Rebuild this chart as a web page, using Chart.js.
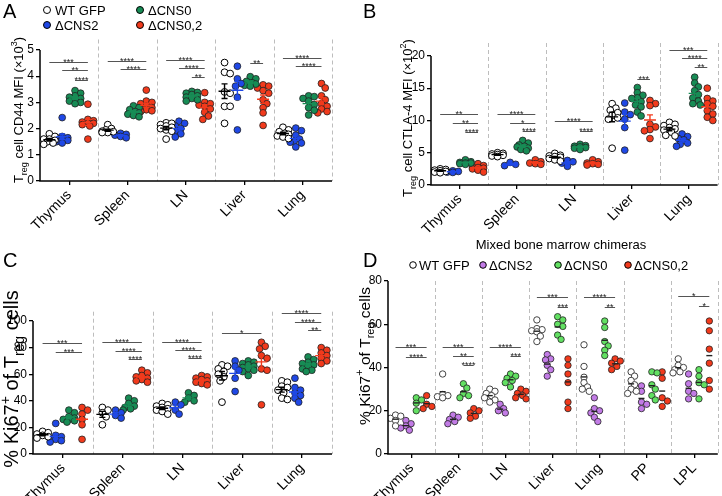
<!DOCTYPE html>
<html>
<head>
<meta charset="utf-8">
<script src="https://cdn.jsdelivr.net/npm/chart.js@4/dist/chart.umd.min.js"></script>
<style>
  body { margin: 0; background: #fff; }
  #wrap { position: relative; width: 722px; height: 496px; overflow: hidden; }
  #wrap canvas { position: absolute; left: 0; top: 0; }
</style>
</head>
<body>
<div id="wrap">
  <canvas id="pa" width="722" height="560"></canvas>
  <canvas id="pb" width="722" height="560"></canvas>
  <canvas id="pc" width="722" height="560"></canvas>
  <canvas id="pd" width="722" height="560"></canvas>
</div>
<script>
// categories and groups
const organs = ['Thymus', 'Spleen', 'LN', 'Liver', 'Lung'];
const organsD = ['Thymus', 'Spleen', 'LN', 'Liver', 'Lung', 'PP', 'LPL'];
const groups = ['WT GFP', 'ΔCNS2', 'ΔCNS0', 'ΔCNS0,2'];

// A: Treg CD44 MFI (x10^3), one list per organ
const cd44WT = [
  [1.8, 1.7, 1.6, 1.6, 1.55, 1.5, 1.45, 1.4],
  [2.15, 2.0, 1.95, 1.9, 1.88, 1.85, 1.85],
  [2.22, 2.2, 2.15, 2.1, 2.05, 2.0, 1.95, 1.9, 1.6],
  [4.52, 4.15, 4.1, 3.4, 3.35, 2.85, 2.85, 2.2],
  [2.05, 1.95, 1.88, 1.82, 1.78, 1.72, 1.68, 1.62]
];
const cd44CNS2 = [
  [2.42, 1.7, 1.65, 1.65, 1.6, 1.55, 1.5, 1.45],
  [1.82, 1.78, 1.75, 1.7, 1.65],
  [2.28, 2.2, 2.1, 2.0, 1.9, 1.8, 1.68],
  [4.38, 3.9, 3.72, 3.62, 3.2, 1.95],
  [2.02, 1.92, 1.75, 1.6, 1.5, 1.48, 1.45, 1.3]
];
const cd44CNS0 = [
  [3.45, 3.35, 3.25, 3.2, 3.15, 3.1, 3.05, 3.0, 2.95],
  [2.87, 2.8, 2.72, 2.65, 2.6, 2.55, 2.5, 2.45],
  [3.42, 3.38, 3.35, 3.3, 3.25, 3.2, 3.15, 3.1, 3.05],
  [3.98, 3.9, 3.8, 3.75, 3.7, 3.65, 3.62],
  [3.25, 3.22, 3.15, 3.05, 2.92, 2.8, 2.7, 2.52]
];
const cd44CNS02 = [
  [2.93, 2.35, 2.3, 2.25, 2.2, 2.2, 2.15, 2.1, 1.6],
  [3.47, 3.05, 3.0, 2.95, 2.85, 2.8, 2.75, 2.72, 2.68, 2.65],
  [3.37, 3.0, 2.95, 2.9, 2.85, 2.75, 2.62, 2.48, 2.35],
  [3.67, 3.62, 3.55, 3.45, 3.35, 3.1, 2.95, 2.8, 2.6, 2.12],
  [3.72, 3.55, 3.25, 3.1, 2.95, 2.85, 2.75, 2.65, 2.6]
];
// [organ, group from, group to, height, stars]
const cd44Sig = [
  [0, 0, 3, 4.55, '***'], [0, 1, 3, 4.22, '**'], [0, 2, 3, 3.87, '****'],
  [1, 0, 3, 4.59, '****'], [1, 1, 3, 4.26, '****'],
  [2, 0, 3, 4.62, '****'], [2, 1, 3, 4.32, '****'], [2, 2, 3, 3.98, '**'],
  [3, 2, 3, 4.5, '**'],
  [4, 0, 3, 4.7, '****'], [4, 1, 3, 4.39, '****']
];

// B: Treg CTLA-4 MFI (x10^2)
const ctlaWT = [
  [2.5, 2.4, 2.3, 2.2, 2.1, 2.0, 1.9],
  [5.0, 4.9, 4.8, 4.7, 4.6, 4.5, 4.4],
  [4.9, 4.6, 4.5, 4.4, 4.3, 4.1, 3.9, 3.7],
  [12.6, 11.9, 11.6, 11.2, 10.8, 10.4, 10.2, 5.7],
  [9.7, 9.4, 9.2, 8.9, 8.7, 8.5, 8.2, 7.7, 7.6]
];
const ctlaCNS2 = [
  [2.2, 2.1, 2.0, 1.95],
  [3.5, 3.2, 3.0],
  [3.8, 3.6, 3.4, 2.9],
  [12.7, 11.3, 10.9, 10.2, 8.9, 5.4],
  [7.9, 7.5, 7.2, 7.0, 6.5, 6.3, 6.0]
];
const ctlaCNS0 = [
  [3.9, 3.6, 3.5, 3.4, 3.4, 3.3, 3.2],
  [6.9, 6.5, 6.2, 6.0, 5.9, 5.7, 5.5, 5.3],
  [6.3, 6.1, 6.0, 5.9, 5.8, 5.7, 5.5],
  [15.1, 14.3, 13.9, 13.5, 13.4, 12.9, 12.4, 12.1, 11.3, 10.7],
  [16.7, 15.8, 15.2, 14.6, 14.0, 13.5, 13.0, 12.6, 12.4]
];
const ctlaCNS02 = [
  [3.3, 3.0, 2.8, 2.7, 2.6, 2.5, 2.3, 2.0],
  [3.9, 3.6, 3.4, 3.3, 3.2],
  [3.9, 3.6, 3.4, 3.3, 3.2, 3.1],
  [13.1, 12.6, 12.3, 9.4, 9.0, 8.6, 8.4, 7.2],
  [15.0, 13.4, 13.0, 12.6, 12.2, 11.5, 11.0, 10.5, 10.0]
];
const ctlaSig = [
  [0, 0, 3, 11.0, '**'], [0, 1, 3, 9.6, '**'], [0, 2, 3, 8.25, '****'],
  [1, 0, 3, 11.0, '****'], [1, 1, 3, 9.64, '*'], [1, 2, 3, 8.3, '****'],
  [2, 0, 3, 9.9, '****'], [2, 2, 3, 8.4, '****'],
  [3, 2, 3, 16.4, '***'],
  [4, 0, 3, 20.9, '***'], [4, 1, 3, 19.7, '****'], [4, 2, 3, 18.3, '**']
];

// C: % Ki67+ of Treg cells
const ki67WT = [
  [17, 16, 15, 14, 13, 12],
  [35, 33, 31, 28, 22],
  [38, 37, 36, 35, 34, 33, 32, 30],
  [67, 66, 64, 62, 60, 58, 55, 39],
  [55, 54, 51, 50, 48, 46, 42, 41]
];
const ki67CNS2 = [
  [23, 14, 13, 12, 11, 10, 9],
  [33, 31, 29, 27],
  [39, 37, 33, 30],
  [70, 66, 63, 57, 47],
  [57, 50, 48, 46, 44, 42, 39]
];
const ki67CNS0 = [
  [33, 31, 28, 27, 26, 26, 25, 24],
  [42, 40, 38, 36, 35, 34, 33],
  [46, 44, 42, 40, 39],
  [70, 69, 68, 67, 66, 65, 64, 63, 62, 59],
  [73, 71, 69, 68, 67, 66, 64, 63, 62]
];
const ki67CNS02 = [
  [35, 33, 30, 26, 22, 11],
  [63, 61, 59, 58, 57, 56, 55, 54],
  [59, 58, 57, 56, 55, 54, 53, 52],
  [84, 81, 79, 74, 72, 64, 63, 37],
  [80, 78, 76, 74, 72, 70, 68]
];
const ki67Sig = [
  [0, 0, 3, 83.2, '***'], [0, 1, 3, 76.4, '***'],
  [1, 0, 3, 84, '****'], [1, 1, 3, 77.4, '****'], [1, 2, 3, 71.2, '****'],
  [2, 0, 3, 84.5, '****'], [2, 1, 3, 78.2, '****'], [2, 2, 3, 72, '****'],
  [3, 0, 3, 91.2, '*'],
  [4, 0, 3, 105.8, '****'], [4, 1, 3, 99.5, '****'], [4, 2, 3, 93.2, '**']
];

// D: mixed bone marrow chimeras, % Ki67+ of Treg cells
const mixWT = [
  [18, 17.5, 16.5, 15.5, 13],
  [37, 27.5, 27, 26.5, 26],
  [30, 29, 28, 27, 26, 25, 24],
  [62, 58, 57.5, 57, 56.5, 54.5, 52],
  [50.5, 40.5, 35.5, 33, 31, 30, 29],
  [38, 36, 34, 32, 30, 29, 28],
  [44, 41, 40, 39, 38, 37.5]
];
const mixCNS2 = [
  [15.5, 14, 13, 12, 11],
  [18, 17, 16, 15, 14],
  [23, 21, 20, 19],
  [46, 44, 43.5, 41, 39, 36],
  [26, 21, 20, 19, 17, 15],
  [31.5, 29, 24, 23, 21],
  [37, 32.5, 29, 28, 25.5]
];
const mixCNS0 = [
  [26, 25, 23.5, 20],
  [32.5, 30.5, 28, 27, 26],
  [37, 36, 35, 34, 33, 31],
  [63.5, 62, 60, 59, 55, 53],
  [61.5, 58.5, 52, 50, 48, 45.5],
  [38, 37.5, 32, 30, 27, 25],
  [39, 36, 33, 32, 25.5]
];
const mixCNS02 = [
  [27, 23, 22, 21],
  [21, 20, 19, 17.5, 16.5],
  [30, 29, 28, 27, 26, 25.5],
  [44, 41, 37, 33, 24, 21],
  [44, 43, 42, 40.5, 39],
  [38, 35, 26, 24.5, 22],
  [61.5, 57, 48.5, 42, 34, 30]
];
const mixSig = [
  [0, 0, 3, 49.4, '***'], [0, 1, 3, 44.8, '****'],
  [1, 0, 3, 49.7, '***'], [1, 1, 3, 45.4, '**'], [1, 2, 3, 41.2, '****'],
  [2, 0, 3, 49.4, '****'], [2, 2, 3, 45.1, '***'],
  [3, 0, 3, 72.5, '***'], [3, 2, 3, 67.9, '***'],
  [4, 0, 3, 72.5, '****'], [4, 2, 3, 67.9, '**'],
  [6, 0, 3, 73.1, '*'], [6, 2, 3, 68.5, '*']
];

const FONT = '"Liberation Sans", Arial, Helvetica, sans-serif';
const FRAC = [0.16, 0.38, 0.6, 0.82];
const colorsABC = ['#ffffff', '#1f48e6', '#178c55', '#f23a1c'];
const colorsD = ['#ffffff', '#c27be6', '#62e062', '#f23a1c'];
const H = 560; // canvas height, taller than the window so rotated labels are not clipped

// spread points of one column sideways so they do not sit on top of each other
function swarm(vals, ppu, r) {
  const placed = [];
  return vals.map(v => {
    const y = v * ppu;
    let best = 0, bestCost = Infinity;
    for (let k = 0; k < 7; k++) {
      const o = (k % 2 ? 1 : -1) * Math.ceil(k / 2) * r * 0.55;
      let cost = 0;
      placed.forEach(p => {
        const d = Math.hypot(p[0] - o, p[1] - y);
        if (d < r * 1.5) cost += r * 1.5 - d;
      });
      if (cost === 0) { best = o; break; }
      if (cost < bestCost) { bestCost = cost; best = o; }
    }
    placed.push([best, y]);
    return best;
  });
}

function richText(ctx, parts, x, y, size, rotate) {
  const small = Math.round(size * 0.7);
  let w = 0;
  parts.forEach(p => {
    ctx.font = (p[1] ? small : size) + 'px ' + FONT;
    w += ctx.measureText(p[0]).width;
  });
  ctx.save();
  ctx.translate(x, y);
  if (rotate) ctx.rotate(-Math.PI / 2);
  ctx.fillStyle = '#000';
  ctx.textBaseline = 'alphabetic';
  ctx.textAlign = 'left';
  let cx = -w / 2;
  const base = size * 0.36;
  parts.forEach(p => {
    ctx.font = (p[1] ? small : size) + 'px ' + FONT;
    const dy = p[1] === 1 ? size * 0.3 : (p[1] === 2 ? -size * 0.42 : 0);
    ctx.fillText(p[0], cx, base + dy);
    cx += ctx.measureText(p[0]).width;
  });
  ctx.restore();
}

function dot(ctx, x, y, r, fill) {
  ctx.beginPath();
  ctx.arc(x, y, r, 0, Math.PI * 2);
  ctx.fillStyle = fill;
  ctx.fill();
  ctx.lineWidth = 1;
  ctx.strokeStyle = '#000';
  ctx.stroke();
}

function makePanel(p) {
  const n = p.cats.length;
  const a = p.area;
  const ppu = (a.b - a.t) / p.yMax;
  const pxCat = (a.r - a.l) / n;
  const YW = 30, XH = 75;

  const datasets = p.series.map((ser, g) => {
    const pts = [];
    ser.forEach((vals, i) => {
      const offs = swarm(vals, ppu, p.r);
      vals.forEach((v, k) => pts.push({ x: i + FRAC[g] + offs[k] / pxCat, y: v }));
    });
    return {
      label: groups[g],
      data: pts,
      backgroundColor: p.colors[g],
      borderColor: g === 0 ? p.wtEdge : '#222',
      borderWidth: g === 0 ? 1 : 0.8,
      pointRadius: p.r,
      pointHoverRadius: p.r
    };
  });

  const decor = {
    id: 'decor',
    beforeDatasetsDraw(chart) {
      const ctx = chart.ctx, xs = chart.scales.x, ca = chart.chartArea;
      ctx.save();
      ctx.setLineDash([4, 3]);
      ctx.strokeStyle = '#bdbdbd';
      ctx.lineWidth = 1;
      for (let i = 1; i <= n; i++) {
        const x = Math.round(xs.getPixelForValue(i)) + 0.5;
        ctx.beginPath(); ctx.moveTo(x, ca.top); ctx.lineTo(x, ca.bottom); ctx.stroke();
      }
      ctx.restore();
    },
    afterDatasetsDraw(chart) {
      const ctx = chart.ctx, xs = chart.scales.x, ys = chart.scales.y, ca = chart.chartArea;
      ctx.save();
      // mean (+ SEM) marks
      p.series.forEach((ser, g) => {
        ser.forEach((vals, i) => {
          const m = vals.reduce((s, v) => s + v, 0) / vals.length;
          const sd = Math.sqrt(vals.reduce((s, v) => s + (v - m) * (v - m), 0) / (vals.length - 1));
          const sem = sd / Math.sqrt(vals.length);
          const x = xs.getPixelForValue(i + FRAC[g]);
          const y = ys.getPixelForValue(m);
          ctx.lineWidth = 1.4;
          if (p.sem) {
            ctx.strokeStyle = g === 0 ? '#000' : p.colors[g];
            const y1 = ys.getPixelForValue(m + sem), y2 = ys.getPixelForValue(m - sem);
            ctx.beginPath();
            ctx.moveTo(x - 6, y); ctx.lineTo(x + 6, y);
            ctx.moveTo(x, y1); ctx.lineTo(x, y2);
            ctx.moveTo(x - 3, y1); ctx.lineTo(x + 3, y1);
            ctx.moveTo(x - 3, y2); ctx.lineTo(x + 3, y2);
            ctx.stroke();
          } else {
            ctx.strokeStyle = '#222';
            ctx.beginPath(); ctx.moveTo(x - 3, y); ctx.lineTo(x + 3, y); ctx.stroke();
          }
        });
      });
      // significance bars
      ctx.strokeStyle = '#555';
      ctx.fillStyle = '#222';
      ctx.lineWidth = 1;
      ctx.font = '9px ' + FONT;
      ctx.textAlign = 'center';
      ctx.textBaseline = 'alphabetic';
      p.sig.forEach(s => {
        const x1 = xs.getPixelForValue(s[0] + FRAC[s[1]]);
        const x2 = xs.getPixelForValue(s[0] + FRAC[s[2]]);
        const y = Math.round(ys.getPixelForValue(s[3])) + 0.5;
        ctx.beginPath(); ctx.moveTo(x1, y); ctx.lineTo(x2, y); ctx.stroke();
        ctx.fillText(s[4], (x1 + x2) / 2, y + 2.5);
      });
      // axis lines
      ctx.strokeStyle = '#000';
      ctx.lineWidth = 1.5;
      const yTop = ys.getPixelForValue(p.yTicks[p.yTicks.length - 1]);
      ctx.beginPath();
      ctx.moveTo(ca.left, yTop); ctx.lineTo(ca.left, ca.bottom);
      ctx.lineTo(ca.right, ca.bottom);
      ctx.stroke();
      ctx.restore();
    },
    afterDraw(chart) {
      const ctx = chart.ctx;
      ctx.save();
      ctx.fillStyle = '#000';
      ctx.font = '20px ' + FONT;
      ctx.textBaseline = 'top';
      ctx.textAlign = 'left';
      ctx.fillText(p.letter[0], p.letter[1], p.letter[2]);
      richText(ctx, p.title.parts, p.title.x, p.title.y, p.title.size, true);
      if (p.extra) p.extra(ctx);
      ctx.restore();
    }
  };

  new Chart(document.getElementById(p.id), {
    type: 'scatter',
    data: { datasets: datasets },
    options: {
      responsive: false,
      animation: false,
      events: [],
      layout: { padding: { left: a.l - YW, right: 722 - a.r, top: a.t, bottom: H - a.b - XH } },
      plugins: { legend: { display: false }, tooltip: { enabled: false } },
      scales: {
        x: {
          type: 'linear', min: 0, max: n,
          afterBuildTicks: s => { s.ticks = p.cats.map((c, i) => ({ value: i + 0.5 })); },
          afterFit: s => { s.height = XH; s.paddingLeft = 0; s.paddingRight = 0; },
          ticks: {
            autoSkip: false, minRotation: 45, maxRotation: 45, padding: 2,
            color: '#000', font: { family: FONT, size: 14 },
            callback: (v, i) => p.cats[i]
          },
          grid: { drawOnChartArea: false, drawTicks: true, tickLength: 4, color: '#000', lineWidth: 1.3 },
          border: { display: false }
        },
        y: {
          min: 0, max: p.yMax,
          afterBuildTicks: s => { s.ticks = p.yTicks.map(v => ({ value: v })); },
          afterFit: s => { s.width = YW; s.paddingTop = 0; s.paddingBottom = 0; },
          ticks: { color: '#000', font: { family: FONT, size: 12 }, padding: 2 },
          grid: { drawOnChartArea: false, drawTicks: true, tickLength: 4, color: '#000', lineWidth: 1.3 },
          border: { display: false }
        }
      }
    },
    plugins: [decor]
  });
}

makePanel({
  id: 'pa', cats: organs, series: [cd44WT, cd44CNS2, cd44CNS0, cd44CNS02], sig: cd44Sig,
  colors: colorsABC, wtEdge: '#000', r: 3.4, sem: true,
  area: { l: 40, r: 332, t: 39.5, b: 181 }, yMax: 5.4, yTicks: [0, 1, 2, 3, 4, 5],
  letter: ['A', 3, 2],
  title: { parts: [['T', 0], ['reg', 1], [' cell CD44 MFI (×10', 0], ['3', 2], [')', 0]], x: 18, y: 110, size: 13 },
  extra: ctx => {
    const items = [[47, 10, 0], [140, 10, 2], [47, 25, 1], [140, 25, 3]];
    ctx.font = '13px ' + FONT;
    ctx.textBaseline = 'middle';
    items.forEach(it => {
      dot(ctx, it[0], it[1], 3.5, colorsABC[it[2]]);
      ctx.fillStyle = '#000';
      ctx.fillText(groups[it[2]], it[0] + 8, it[1] + 1);
    });
  }
});

makePanel({
  id: 'pb', cats: organs, series: [ctlaWT, ctlaCNS2, ctlaCNS0, ctlaCNS02], sig: ctlaSig,
  colors: colorsABC, wtEdge: '#000', r: 3.4, sem: true,
  area: { l: 431, r: 721, t: 43, b: 185 }, yMax: 22, yTicks: [0, 5, 10, 15, 20],
  letter: ['B', 363, 2],
  title: { parts: [['T', 0], ['reg', 1], [' cell CTLA-4 MFI (×10', 0], ['2', 2], [')', 0]], x: 407, y: 118, size: 13 }
});

makePanel({
  id: 'pc', cats: organs, series: [ki67WT, ki67CNS2, ki67CNS0, ki67CNS02], sig: ki67Sig,
  colors: colorsABC, wtEdge: '#000', r: 3.4, sem: true,
  area: { l: 33, r: 332, t: 311.7, b: 454 }, yMax: 107, yTicks: [0, 20, 40, 60, 80, 100],
  letter: ['C', 3, 251],
  title: { parts: [['% Ki67', 0], ['+', 2], [' of T', 0], ['reg', 1], [' cells', 0]], x: 11, y: 379, size: 20 }
});

makePanel({
  id: 'pd', cats: organsD, series: [mixWT, mixCNS2, mixCNS0, mixCNS02], sig: mixSig,
  colors: colorsD, wtEdge: '#444', r: 3.2, sem: false,
  area: { l: 388, r: 722, t: 281, b: 454 }, yMax: 80, yTicks: [0, 20, 40, 60, 80],
  letter: ['D', 363, 251],
  title: { parts: [['% Ki67', 0], ['+', 2], [' of T', 0], ['reg', 1], [' cells', 0]], x: 364, y: 356, size: 15.5 },
  extra: ctx => {
    ctx.font = '13px ' + FONT;
    ctx.textAlign = 'center';
    ctx.textBaseline = 'middle';
    ctx.fillStyle = '#000';
    ctx.fillText('Mixed bone marrow chimeras', 561, 245);
    ctx.textAlign = 'left';
    const items = [[413, 265, 0], [483, 265, 1], [558, 265, 2], [628, 265, 3]];
    items.forEach(it => {
      dot(ctx, it[0], it[1], 3.3, colorsD[it[2]]);
      ctx.fillStyle = '#000';
      ctx.fillText(groups[it[2]], it[0] + 6, it[1] + 1);
    });
  }
});
</script>
</body>
</html>
